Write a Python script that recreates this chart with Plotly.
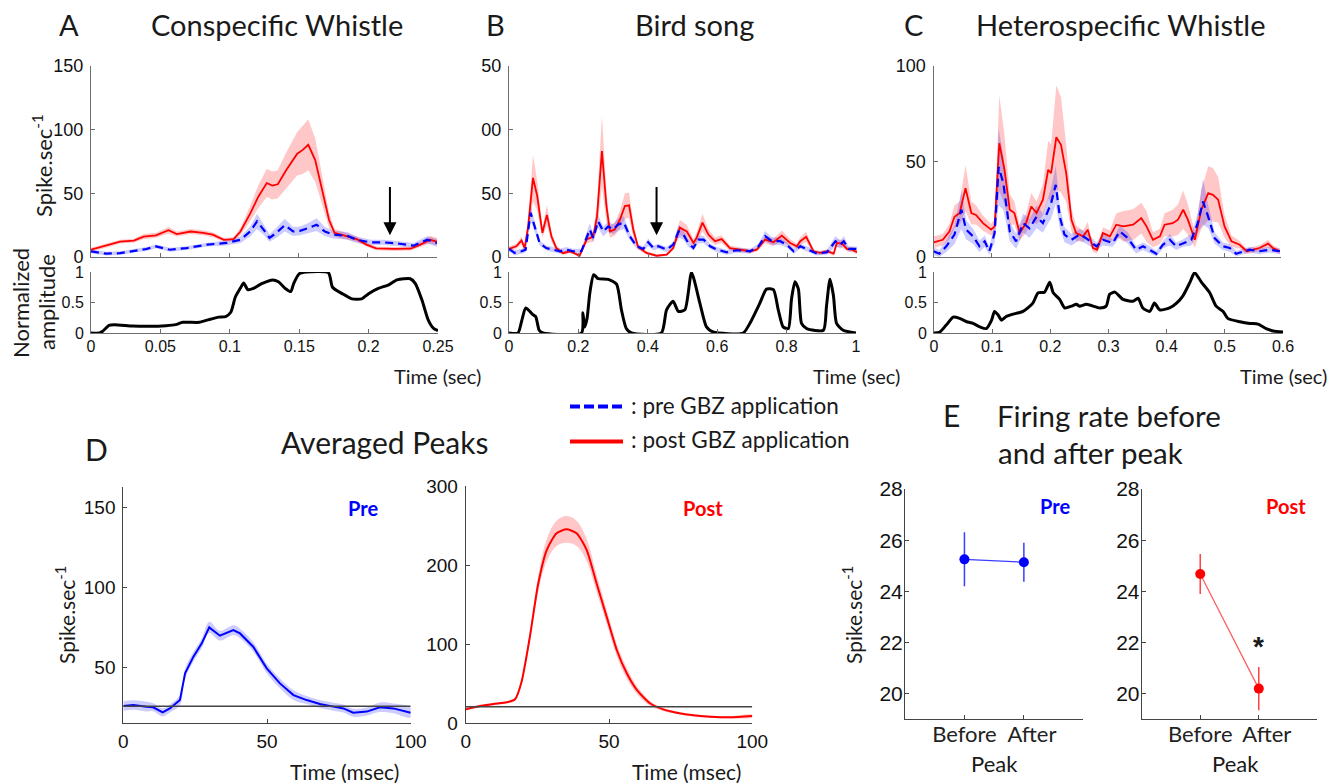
import plotly.graph_objects as go

W, H = 1344, 784

# ---------------- DATA ----------------
# A: Conspecific whistle (time in s, rate in spikes/s)
a_post_t = [0, .014, .021, .031, .038, .047, .056, .062, .072, .081, .088, .096, .103, .108, .115, .121, .127, .131,
            .135, .141, .149, .153, .157, .162, .167, .172, .176, .185, .192, .199, .206, .219, .231, .238, .245, .25]
a_post_rate = [5.7, 9.7, 12, 12.8, 16, 17, 21, 18, 20, 19, 17.5, 13.5, 14, 20, 34, 47.5, 58, 56, 57, 68, 81, 84, 88,
               76, 53, 29, 19, 16, 14, 9.7, 6.8, 6.3, 6.5, 9.7, 13.5, 12]
a_post_sem = [1.5, 1.5, 1.5, 1.5, 2, 2, 2.5, 2, 2, 2, 2, 1.5, 1.5, 3, 6, 9, 11, 11, 11, 14, 17, 19, 20, 17, 12, 6, 3,
              2.5, 2, 1.5, 1.5, 1.5, 1.5, 2, 3, 3]
a_pre_t = [0, .011, .021, .031, .040, .047, .057, .069, .084, .098, .108, .115, .120, .125, .129, .134, .140, .146,
           .151, .157, .163, .169, .175, .185, .192, .202, .211, .223, .233, .243, .25]
a_pre_rate = [4.4, 2.6, 3, 5, 6.3, 8.3, 5.7, 7, 9.7, 11, 13.5, 20, 28, 21, 15, 19, 25, 20, 20.5, 22.7, 25.3, 20, 17.5,
              16.7, 13.5, 11.5, 11.5, 10.4, 8.9, 13.5, 11]
a_pre_sem = [1.5, 1.5, 1.5, 1.5, 1.5, 1.5, 1.5, 1.5, 1.5, 2, 2.5, 4, 6, 4, 3, 4, 5, 3.5, 3.5, 4, 5, 3.5, 3, 3, 2.5, 2,
             2, 2, 2, 3, 3]
a_amp_t = [0, .006, .0084, .013, .0168, .03, .042, .054, .061, .066, .078, .085, .092, .097, .1007, .104, .108, .11,
           .113, .117, .123, .131, .135, .14, .144, .146, .15, .155, .171, .174, .181, .188, .195, .2, .207, .2145,
           .2205, .23, .2337, .2385, .243, .247, .25]
a_amp = [0, 0, .03, .126, .137, .115, .11, .12, .137, .175, .175, .22, .26, .27, .34, .59, .75, .82, .71, .73, .81,
         .87, .84, .73, .68, .81, .97, 1.0, .99, .75, .645, .56, .56, .645, .73, .79, .87, .89, .81, .535, .21, .07,
         .04]

# B: Bird song
b_post_t = [0, .021, .036, .045, .055, .069, .081, .096, .109, .122, .136, .155, .175, .203, .223, .242, .253, .267,
            .28, .29, .304, .319, .333, .345, .357, .371, .395, .424, .453, .472, .491, .511, .53, .539, .556, .573,
            .592, .611, .635, .664, .693, .712, .736, .76, .784, .808, .827, .837, .854, .875, .894, .914, .933,
            .942, .957, .971, .986, 1.0]
b_post_rate = [6.3, 8.4, 13, 7, 24, 62, 48, 19, 33, 16, 7, 3, 4.5, 1, 13.7, 16, 32, 83, 40, 20, 21.6, 29.5, 40, 40.5,
               21.6, 7.9, 3.2, 1, 1.8, 7, 23, 20, 11, 15, 27, 17.6, 12.4, 14, 7, 5.8, 4.5, 5.8, 13.7, 11.6, 16.8, 11,
               8.4, 12.4, 15.8, 4.5, 3.2, 4.5, 2.6, 11, 10.5, 6.3, 5.8, 3.7]
b_post_sem = [2, 2, 3, 2, 6, 18, 12, 4, 8, 4, 2, 1.5, 1.5, 1, 3, 4, 10, 28, 12, 5, 5, 7, 10, 10, 6, 2, 1.5, 1, 1, 2,
              6, 5, 3, 4, 7, 4, 3, 3, 2, 1.5, 1.5, 1.5, 3, 3, 4, 3, 2, 3, 4, 1.5, 1.5, 1.5, 1.5, 3, 3, 2, 2, 1.5]
b_pre_t = [0, .016, .036, .048, .062, .074, .088, .107, .127, .146, .165, .184, .208, .232, .242, .256, .271, .285,
           .299, .314, .33, .347, .367, .386, .4, .415, .429, .453, .472, .487, .501, .515, .53, .544, .559, .578,
           .597, .626, .655, .693, .717, .736, .755, .779, .798, .818, .837, .861, .885, .914, .938, .952, .962,
           .976, 1.0]
b_pre_rate = [6.3, 3.2, 4.5, 5.8, 34.7, 24, 11, 7, 5.8, 4.5, 5.8, 4.5, 4.5, 21.6, 15, 28, 20, 24, 21.6, 25.5, 27,
              16.3, 8.4, 6.3, 11.6, 7, 8.4, 5.8, 9.7, 20, 17.6, 11, 7, 13.7, 13.7, 8.4, 5.8, 3.7, 5.3, 4.5, 8.4,
              16.3, 12.4, 12.4, 9.7, 4.5, 8.4, 5.8, 2.6, 3.7, 12.4, 9.7, 12.4, 6.3, 6.3]
b_pre_sem = [2, 2, 2, 2, 6, 4, 2, 2, 2, 2, 2, 2, 2, 5, 3, 5, 4, 4, 4, 5, 5, 3, 2, 2, 3, 2, 2, 2, 2, 5, 4, 3, 2, 3, 3,
             2, 2, 2, 2, 2, 2, 4, 3, 3, 2, 2, 2, 2, 1.5, 2, 4, 3, 4, 2, 2]
b_amp_t = [0, .026, .036, .048, .06, .069, .077, .087, .098, .209, .213, .218, .225, .233, .244, .257, .286, .31,
           .324, .338, .353, .439, .454, .473, .488, .507, .526, .55, .569, .588, .675, .694, .723, .742, .762,
           .776, .79, .805, .814, .824, .834, .843, .858, .906, .915, .925, .935, .944, .963, 1.0]
b_amp = [0, 0, .185, .41, .354, .30, .27, .045, 0, 0, .33, .10, .24, .66, .955, .89, .88, .80, .38, .073, 0, 0, .38,
         .52, .354, .38, .99, .49, .10, .017, 0, .157, .49, .72, .71, .38, .10, .073, .55, .84, .72, .157, .073,
         .045, .44, .88, .61, .157, .045, 0]

# C: Heterospecific whistle
c_post_t = [0, .016, .0275, .036, .045, .055, .065, .073, .085, .099, .105, .113, .122, .131, .139, .148, .159, .168,
            .177, .188, .197, .202, .211, .219, .228, .237, .245, .257, .265, .274, .281, .291, .303, .314, .326,
            .343, .357, .366, .377, .389, .397, .411, .42, .429, .437, .449, .46, .472, .48, .489, .5, .512, .526,
            .538, .549, .56, .575, .583, .595]
c_post_rate = [7.7, 9, 13.4, 21, 23, 36, 23, 22, 17.7, 14.3, 16, 59.5, 45.6, 24.7, 23, 12.5, 17.7, 26.4, 23, 30,
               45.6, 43.8, 62.6, 58.6, 43.8, 19.5, 12.5, 10.8, 14.3, 4.7, 3.8, 12.5, 10.8, 16.9, 16, 16.9, 20.3, 16,
               9, 10.8, 16.9, 17.7, 19.5, 24.7, 19.5, 9, 24.7, 33.4, 32.5, 30, 16, 8.2, 6.4, 3, 3.8, 4.7, 7, 4.7, 3]
c_post_sem = [3, 3, 4, 6, 6, 12, 6, 5, 4, 3, 4, 25, 18, 8, 6, 4, 5, 7, 6, 8, 15, 15, 27, 25, 15, 6, 4, 3, 4, 2, 2, 3,
              3, 6, 8, 8, 8, 8, 4, 4, 6, 7, 8, 10, 8, 4, 10, 14, 14, 12, 6, 3, 2, 1.5, 1.5, 1.5, 2, 1.5, 1.5]
c_pre_t = [0, .01, .022, .036, .048, .056, .068, .079, .088, .096, .105, .112, .12, .131, .142, .154, .165, .177,
           .188, .197, .202, .21, .217, .225, .237, .251, .262, .28, .291, .308, .32, .334, .348, .36, .371, .383,
           .394, .406, .417, .429, .443, .454, .463, .472, .483, .497, .509, .52, .532, .543, .56, .578, .595]
c_pre_rate = [3, 1.7, 5.6, 11.7, 24.7, 14.3, 10.8, 5.6, 8.2, 3, 12.5, 47, 38.6, 13.4, 8.2, 17.7, 15, 21, 17.7, 24.7,
              28, 37.7, 21, 11.7, 9, 11.7, 9.9, 5.6, 9, 7.3, 13.4, 9.9, 3.8, 5.6, 3.8, 1.7, 6.4, 9, 5.6, 7.3, 9,
              17.7, 29, 21, 9.9, 5.6, 4.7, 1.7, 3, 3.8, 3, 3.8, 3]
c_pre_sem = [2, 2, 3, 5, 10, 5, 4, 3, 3, 2, 5, 20, 14, 5, 4, 5, 5, 6, 5, 7, 8, 10, 6, 4, 3, 3, 3, 2, 3, 2, 3, 3, 2, 2,
             2, 1.5, 2, 3, 2, 2, 3, 5, 12, 6, 3, 2, 2, 1.5, 1.5, 1.5, 1.5, 1.5, 1.5]
c_amp_t = [0, .01, .021, .033, .044, .056, .067, .079, .09, .099, .104, .11, .116, .124, .136, .153, .17, .179, .19,
           .199, .205, .216, .225, .236, .245, .25, .262, .285, .296, .302, .311, .325, .342, .351, .359, .371,
           .379, .388, .405, .417, .428, .44, .448, .46, .474, .485, .497, .505, .526, .543, .557, .571, .583, .6]
c_amp = [0, .017, .13, .26, .24, .185, .157, .10, .073, .21, .354, .30, .21, .27, .31, .354, .49, .66, .67, .83, .66,
         .55, .41, .44, .47, .44, .47, .41, .44, .635, .67, .55, .52, .57, .41, .354, .49, .38, .41, .49, .61, .83,
         .99, .83, .66, .44, .354, .24, .185, .157, .146, .073, .034, .017]

# D: Averaged peaks (time in ms)
d_pre_t = [0, 3.5, 8.1, 10.4, 13.7, 16.2, 19.7, 21.5, 24.4, 27.3, 29.9, 33.6, 38.3, 40.6, 45.2, 49.9, 54.5, 59.2,
           63.8, 68.4, 73.1, 76.6, 80, 84.7, 89.3, 94, 100]
d_pre_rate = [26.1, 26.7, 25.7, 25.3, 22.1, 24.6, 29.8, 46.5, 56.9, 65.2, 75.2, 70, 73.5, 71.4, 63.1, 49.6, 40.2,
              32.9, 29.8, 27.3, 25.7, 24.6, 21.9, 22.6, 25.3, 24.6, 21.9]
d_pre_sem = [3, 3, 3, 2.5, 2.5, 2.5, 3, 3, 3, 3, 3.5, 3, 3, 3, 3, 3, 3, 3, 2.5, 2.5, 2.5, 2.5, 2.5, 2.5, 3, 3, 3]
d_pre_baseline = 26
d_post_t = [0, 5, 9.7, 14.3, 17.2, 19.5, 22.4, 25.3, 28.3, 31.7, 35.2, 38.7, 42.2, 45.7, 49.2, 52.7, 56.2, 59.7,
            64.3, 68.9, 73.6, 79.4, 85.2, 92.2, 100]
d_post_rate = [17.7, 22, 24.5, 26.6, 30.4, 52.8, 110, 177, 220, 241, 246, 241, 220, 177, 135, 93, 63.4, 42.3, 25.4,
               17.7, 13.5, 10.1, 8.4, 7.6, 9.3]
d_post_sem = [1.5, 1.5, 1.5, 1.5, 2, 3, 6, 10, 14, 16, 17, 16, 14, 11, 9, 8, 7, 5, 3, 2, 1.5, 1.5, 1.5, 1.5, 1.5]
d_post_baseline = 21

# E: Firing rate before / after peak
e_cats = ["Before", "\u00a0\u00a0\u00a0After"]
e_pre_mean = [25.25, 25.14]
e_pre_err_up = [1.06, 0.76]
e_pre_err_down = [1.05, 0.76]
e_post_mean = [24.68, 20.2]
e_post_err_up = [0.78, 0.84]
e_post_err_down = [0.78, 0.85]

# ---------------- FIGURE ----------------
RED, BLUE = '#ff0000', '#0000ff'
RED_F, BLUE_F = 'rgba(255,0,0,0.22)', 'rgba(0,0,255,0.2)'
TICK_FONT = 'Liberation Sans'
LBL_FONT = 'Lato'
AX_COL = '#6e6e6e'

fig = go.Figure()


def band_trace(t, m, s, xa, ya, fill, shape='linear'):
    up = [a + b for a, b in zip(m, s)]
    lo = [max(a - b, 0) for a, b in zip(m, s)]
    fig.add_trace(go.Scatter(x=list(t) + list(t)[::-1], y=up + lo[::-1], fill='toself', fillcolor=fill,
                             line=dict(width=0, shape=shape), mode='lines', hoverinfo='skip', showlegend=False,
                             xaxis=xa, yaxis=ya))


def line_trace(t, m, xa, ya, color, dash='solid', width=2, shape='linear'):
    fig.add_trace(go.Scatter(x=t, y=m, mode='lines',
                             line=dict(color=color, width=width, dash=dash, shape=shape, smoothing=0.6),
                             showlegend=False, xaxis=xa, yaxis=ya))


# rate panels A, B, C
for (pt, pm, ps, qt, qm, qs, xa, ya) in [
    (a_post_t, a_post_rate, a_post_sem, a_pre_t, a_pre_rate, a_pre_sem, 'x', 'y'),
    (b_post_t, b_post_rate, b_post_sem, b_pre_t, b_pre_rate, b_pre_sem, 'x3', 'y3'),
    (c_post_t, c_post_rate, c_post_sem, c_pre_t, c_pre_rate, c_pre_sem, 'x5', 'y5'),
]:
    band_trace(pt, pm, ps, xa, ya, RED_F)
    band_trace(qt, qm, qs, xa, ya, BLUE_F)
    line_trace(pt, pm, xa, ya, RED, width=1.8)
    line_trace(qt, qm, xa, ya, BLUE, dash='8px,5px', width=2.2)

# amplitude envelopes
line_trace(a_amp_t, a_amp, 'x2', 'y2', 'black', width=3, shape='spline')
line_trace(b_amp_t, b_amp, 'x4', 'y4', 'black', width=3, shape='spline')
line_trace(c_amp_t, c_amp, 'x6', 'y6', 'black', width=3, shape='spline')

# D
band_trace(d_pre_t, d_pre_rate, d_pre_sem, 'x7', 'y7', BLUE_F, shape='spline')
line_trace(d_pre_t, d_pre_rate, 'x7', 'y7', BLUE, width=2)
band_trace(d_post_t, d_post_rate, d_post_sem, 'x8', 'y8', RED_F, shape='spline')
line_trace(d_post_t, d_post_rate, 'x8', 'y8', RED, width=2, shape='spline')

# E
e_x = [1, 2]
fig.add_trace(go.Scatter(x=e_x, y=e_pre_mean, mode='lines+markers', xaxis='x9', yaxis='y9', showlegend=False,
                         line=dict(color='#3c3cff', width=1.3), marker=dict(color=BLUE, size=10),
                         error_y=dict(type='data', symmetric=False, array=e_pre_err_up, arrayminus=e_pre_err_down,
                                      width=0, thickness=1.5, color='#3c3cff')))
fig.add_trace(go.Scatter(x=e_x, y=e_post_mean, mode='lines+markers', xaxis='x10', yaxis='y10', showlegend=False,
                         line=dict(color='#ff6060', width=1.3), marker=dict(color=RED, size=10),
                         error_y=dict(type='data', symmetric=False, array=e_post_err_up, arrayminus=e_post_err_down,
                                      width=0, thickness=1.5, color='#ff4040')))


def dx(a, b):
    return [a / W, b / W]


def dy(top, bottom):
    return [1 - bottom / H, 1 - top / H]


def axis(dom, rng, size=18, **kw):
    d = dict(domain=dom, range=rng, showline=True, linecolor=AX_COL, linewidth=1, ticks='inside', ticklen=4,
             tickcolor=AX_COL, showgrid=False, zeroline=False, fixedrange=True, automargin=False,
             tickfont=dict(family=TICK_FONT, size=size, color='#111'))
    d.update(kw)
    return d


TOP = dy(65.7, 257)
AMP = dy(272, 333)
DK = dict(linecolor='#444', tickcolor='#444')
EFONT = dict(family=LBL_FONT, size=22, color='#222')
layout = dict(
    width=W, height=784, margin=dict(l=0, r=0, t=0, b=0), paper_bgcolor='white', plot_bgcolor='white',
    showlegend=False,
    # A
    xaxis=axis(dx(91, 437), [0, 0.25], anchor='y', showticklabels=False, dtick=0.05),
    yaxis=axis(TOP, [0, 150], anchor='x', tickvals=[0, 50, 100, 150], ticklabelstandoff=3),
    xaxis2=axis(dx(91, 438), [0, 0.25], size=16, anchor='y2', tickvals=[0, 0.05, 0.1, 0.15, 0.2, 0.25],
                ticktext=['0', '0.05', '0.1', '0.15', '0.2', '0.25'], ticklabelstandoff=-1),
    yaxis2=axis(AMP, [0, 1], size=16, anchor='x2', tickvals=[0, 0.5, 1], ticktext=['0', '0.5', '1'],
                ticklabelstandoff=3),
    # B
    xaxis3=axis(dx(509, 857), [0, 1], anchor='y3', showticklabels=False, dtick=0.2),
    yaxis3=axis(TOP, [0, 150], anchor='x3', tickvals=[0, 50, 100, 150], ticktext=['0', '50', '00', '50'],
                ticklabelstandoff=3),
    xaxis4=axis(dx(509, 856), [0, 1], size=16, anchor='y4', tickvals=[0, 0.2, 0.4, 0.6, 0.8, 1],
                ticktext=['0', '0.2', '0.4', '0.6', '0.8', '1'], ticklabelstandoff=-1),
    yaxis4=axis(AMP, [0, 1], size=16, anchor='x4', tickvals=[0, 0.5, 1], ticktext=['0', '0.5', '1'],
                ticklabelstandoff=3),
    # C
    xaxis5=axis(dx(933.5, 1281), [0, 0.597], anchor='y5', showticklabels=False, dtick=0.1),
    yaxis5=axis(TOP, [0, 100], anchor='x5', tickvals=[0, 50, 100], ticklabelstandoff=3),
    xaxis6=axis(dx(934, 1283), [0, 0.6], size=16, anchor='y6', tickvals=[0, 0.1, 0.2, 0.3, 0.4, 0.5, 0.6],
                ticktext=['0', '0.1', '0.2', '0.3', '0.4', '0.5', '0.6'], ticklabelstandoff=-1),
    yaxis6=axis(AMP, [0, 1], size=16, anchor='x6', tickvals=[0, 0.5, 1], ticktext=['0', '0.5', '1'],
                ticklabelstandoff=3),
    # D
    xaxis7=axis(dx(123.3, 410.7), [0, 100], size=19, anchor='y7', tickvals=[0, 50, 100], ticklabelstandoff=1, **DK),
    yaxis7=axis(dy(486.7, 723.3), [15.3, 163], size=19, anchor='x7', tickvals=[50, 100, 150], ticklabelstandoff=3,
                **DK),
    xaxis8=axis(dx(465.7, 752.3), [0, 100], size=19, anchor='y8', tickvals=[0, 50, 100], ticklabelstandoff=1, **DK),
    yaxis8=axis(dy(486, 723.3), [0, 301], size=19, anchor='x8', tickvals=[0, 100, 200, 300], ticklabelstandoff=3,
                **DK),
    # E
    xaxis9=axis(dx(905, 1083.3), [0, 3], anchor='y9', tickvals=e_x, ticktext=e_cats, ticklabelstandoff=-5,
                tickangle=0, tickfont=EFONT, **DK),
    yaxis9=axis(dy(489, 719.3), [19, 28], size=21, anchor='x9', tickvals=[20, 22, 24, 26, 28], ticklabelstandoff=-3,
                **DK),
    xaxis10=axis(dx(1141.7, 1317.3), [0, 3], anchor='y10', tickvals=e_x, ticktext=e_cats, ticklabelstandoff=-5,
                 tickangle=0, tickfont=EFONT, **DK),
    yaxis10=axis(dy(489, 719.3), [19, 28], size=21, anchor='x10', tickvals=[20, 22, 24, 26, 28],
                 ticklabelstandoff=-3, **DK),
)
fig.update_layout(**layout)


def P(px, py):
    return px / W, 1 - py / H


ann = []


def text(px, py, s, size=20, xanchor='center', angle=0, color='#1a1a1a', bold=False, family=LBL_FONT):
    x, y = P(px, py)
    if bold:
        s = '<b>' + s + '</b>'
    ann.append(dict(x=x, y=y, xref='paper', yref='paper', text=s, showarrow=False, xanchor=xanchor,
                    yanchor='middle', textangle=angle, borderpad=0,
                    font=dict(family=family, size=size, color=color)))


# panel letters & titles
text(69, 25, 'A', 29)
text(277, 25, 'Conspecific Whistle', 29)
text(495, 25, 'B', 29)
text(694, 25, 'Bird song', 29)
text(913, 25, 'C', 29)
text(1121, 25, 'Heterospecific Whistle', 29)
text(96, 449, 'D', 30)
text(384, 442, 'Averaged Peaks', 30)
text(951, 415, 'E', 30)
text(996, 415, 'Firing rate before', 29.5, xanchor='left')
text(997, 453, 'and after peak', 29.5, xanchor='left')

# axis titles
text(42, 166, 'Spike.sec<sup>-1</sup>', 22, angle=-90)
text(20, 303, 'Normalized', 22, angle=-90)
text(46, 302, 'amplitude', 22, angle=-90)
text(437, 376, 'Time (sec)', 20)
text(856, 376, 'Time (sec)', 20)
text(1283, 376, 'Time (sec)', 20)
text(65, 615, 'Spike.sec<sup>-1</sup>', 21, angle=-90)
text(344, 771, 'Time (msec)', 21)
text(686, 771, 'Time (msec)', 21)
text(852, 615, 'Spike.sec<sup>-1</sup>', 21, angle=-90)
text(994, 763, 'Peak', 22)
text(1235, 763, 'Peak', 22)

# Pre / Post labels
text(363, 508, 'Pre', 20, color=BLUE, bold=True)
text(703, 508, 'Post', 20, color=RED, bold=True)
text(1055, 506, 'Pre', 20, color=BLUE, bold=True)
text(1286, 506, 'Post', 20, color=RED, bold=True)

# legend texts
text(630, 405, ': pre GBZ application', 22.5, xanchor='left')
text(630, 440, ': post GBZ application', 22.5, xanchor='left')

# significance star
ann.append(dict(x=2, y=21.85, xref='x10', yref='y10', text='<b>*</b>', showarrow=False,
                font=dict(family=TICK_FONT, size=28, color='#1a1a1a')))

# arrows in A and B
ann.append(dict(x=0.216, y=17, ax=0.216, ay=56, xref='x', yref='y', axref='x', ayref='y', text='',
                showarrow=True, arrowhead=2, arrowsize=1.3, arrowwidth=2, arrowcolor='black'))
ann.append(dict(x=0.424, y=17, ax=0.424, ay=56, xref='x3', yref='y3', axref='x3', ayref='y3', text='',
                showarrow=True, arrowhead=2, arrowsize=1.3, arrowwidth=2, arrowcolor='black'))

fig.update_layout(annotations=ann)

shapes = [
    dict(type='line', xref='paper', yref='paper', x0=570 / W, x1=623 / W, y0=1 - 406.5 / H, y1=1 - 406.5 / H,
         line=dict(color=BLUE, width=4, dash='10px,4px')),
    dict(type='line', xref='paper', yref='paper', x0=570 / W, x1=623 / W, y0=1 - 441.5 / H, y1=1 - 441.5 / H,
         line=dict(color=RED, width=4)),
    dict(type='line', xref='x7', yref='y7', x0=0, x1=100, y0=d_pre_baseline, y1=d_pre_baseline,
         line=dict(color='#444', width=1.5)),
    dict(type='line', xref='x8', yref='y8', x0=0, x1=100, y0=d_post_baseline, y1=d_post_baseline,
         line=dict(color='#444', width=1.5)),
]
fig.update_layout(shapes=shapes)

fig.write_html("out.html", config={'displayModeBar': False})
